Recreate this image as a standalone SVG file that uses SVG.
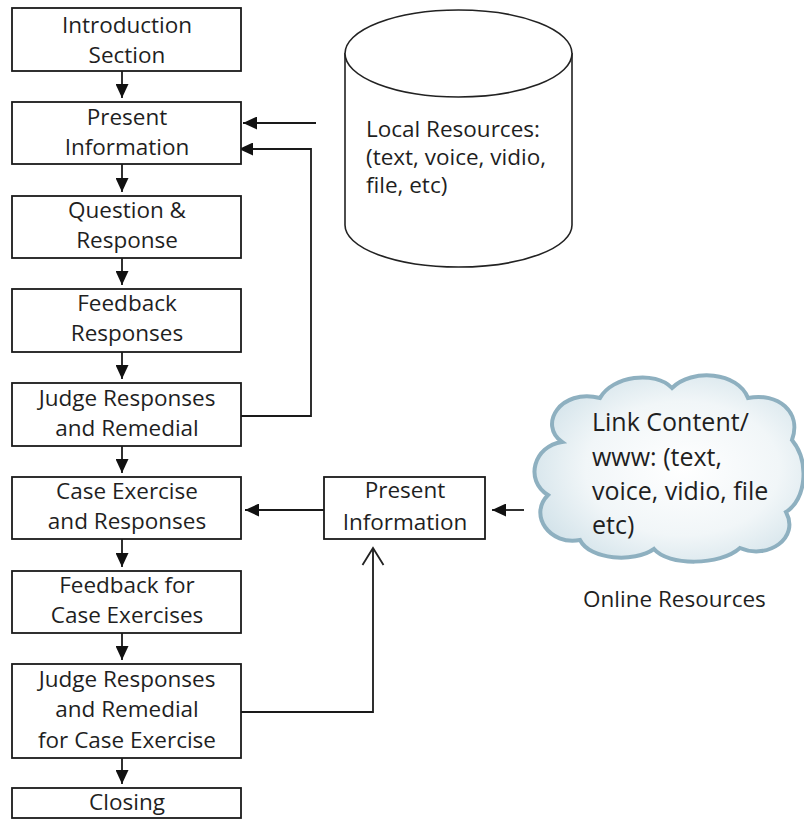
<svg xmlns="http://www.w3.org/2000/svg" width="804" height="820" viewBox="0 0 804 820">
<style>
.box{fill:#fff;stroke:#1a1a1a;stroke-width:1.8}
.t{font-family:"Open Sans","Noto Sans",sans-serif;font-size:22.5px;fill:#1f1f1f}
.c{text-anchor:middle}
.big{font-size:25px}
.ln{fill:none;stroke:#1a1a1a;stroke-width:1.8}
.cyl{fill:#fff;stroke:#222;stroke-width:1.6}
</style>
<defs>
<marker id="ah" markerUnits="userSpaceOnUse" markerWidth="14" markerHeight="13" viewBox="0 0 14 13" refX="14" refY="6.5" orient="auto">
<path d="M0,0 L14,6.5 L0,13 Z" fill="#111"/>
</marker>
<marker id="open" markerUnits="userSpaceOnUse" markerWidth="20" markerHeight="24" viewBox="0 0 20 24" refX="18" refY="12" orient="auto">
<path d="M1,1.5 L18,12 L1,22.5" fill="none" stroke="#222" stroke-width="1.8"/>
</marker>
<radialGradient id="cg" cx="0.55" cy="0.5" r="0.6">
<stop offset="0" stop-color="#ffffff"/>
<stop offset="0.6" stop-color="#f1f6f8"/>
<stop offset="1" stop-color="#d3e3ea"/>
</radialGradient>
</defs>

<g id="connectors">
<line class="ln" x1="122" y1="71" x2="122" y2="98" marker-end="url(#ah)"/>
<line class="ln" x1="122" y1="164" x2="122" y2="192" marker-end="url(#ah)"/>
<line class="ln" x1="122" y1="258" x2="122" y2="285" marker-end="url(#ah)"/>
<line class="ln" x1="122" y1="352" x2="122" y2="379" marker-end="url(#ah)"/>
<line class="ln" x1="122" y1="446" x2="122" y2="473" marker-end="url(#ah)"/>
<line class="ln" x1="122" y1="539" x2="122" y2="567" marker-end="url(#ah)"/>
<line class="ln" x1="122" y1="633" x2="122" y2="660" marker-end="url(#ah)"/>
<line class="ln" x1="122" y1="758" x2="122" y2="784" marker-end="url(#ah)"/>
<line class="ln" x1="316" y1="123" x2="243" y2="123" marker-end="url(#ah)"/>
<polyline class="ln" points="241,416 311,416 311,149 239,149" marker-end="url(#ah)"/>
<line class="ln" x1="324" y1="510" x2="245" y2="510" marker-end="url(#ah)"/>
<line class="ln" x1="524" y1="510" x2="492" y2="510" marker-end="url(#ah)"/>
<polyline class="ln" points="241,712 373,712 373,548" marker-end="url(#open)"/>
</g>

<g id="n1"><rect class="box" x="12" y="8" width="229" height="63"/>
<text class="t c" x="127" y="33">Introduction</text><text class="t c" x="127" y="63">Section</text></g>
<g id="n2"><rect class="box" x="12" y="102" width="229" height="62"/>
<text class="t c" x="127" y="125">Present</text><text class="t c" x="127" y="155">Information</text></g>
<g id="n3"><rect class="box" x="12" y="196" width="229" height="62"/>
<text class="t c" x="127" y="218">Question &amp;</text><text class="t c" x="127" y="248">Response</text></g>
<g id="n4"><rect class="box" x="12" y="289" width="229" height="63"/>
<text class="t c" x="127" y="311">Feedback</text><text class="t c" x="127" y="341">Responses</text></g>
<g id="n5"><rect class="box" x="12" y="383" width="229" height="63"/>
<text class="t c" x="127" y="406">Judge Responses</text><text class="t c" x="127" y="436">and Remedial</text></g>
<g id="n6"><rect class="box" x="12" y="477" width="229" height="62"/>
<text class="t c" x="127" y="499">Case Exercise</text><text class="t c" x="127" y="529">and Responses</text></g>
<g id="n7"><rect class="box" x="12" y="571" width="229" height="62"/>
<text class="t c" x="127" y="593">Feedback for</text><text class="t c" x="127" y="623">Case Exercises</text></g>
<g id="n8"><rect class="box" x="12" y="664" width="229" height="94"/>
<text class="t c" x="127" y="687">Judge Responses</text><text class="t c" x="127" y="717">and Remedial</text><text class="t c" x="127" y="748">for Case Exercise</text></g>
<g id="n9"><rect class="box" x="12" y="788" width="229" height="30"/>
<text class="t c" x="127" y="810">Closing</text></g>

<g id="n10"><rect class="box" x="324" y="477" width="161" height="62"/>
<text class="t c" x="405" y="498">Present</text><text class="t c" x="405" y="530">Information</text></g>

<g id="local">
<path class="cyl" d="M345,53 L345,225 A113.5,42 0 0 0 572,225 L572,53"/>
<ellipse class="cyl" cx="458.5" cy="53.5" rx="113.5" ry="43.5"/>
<text class="t" x="366" y="137">Local Resources:</text>
<text class="t" x="366" y="165">(text, voice, vidio,</text>
<text class="t" x="366" y="193">file, etc)</text>
</g>

<g id="online">
<path d="M562,442 C538,425 560,388 600,398 C612,376 655,370 672,388 C692,368 738,372 748,398 C778,392 802,412 792,440 C810,462 806,500 786,512 C800,538 768,560 740,548 C720,566 668,566 654,549 C634,563 590,560 580,540 C550,546 528,515 548,495 C524,480 534,446 562,442 Z" fill="url(#cg)" stroke="#8eb0c0" stroke-width="4"/>
<text class="t big" x="592" y="431">Link Content/</text>
<text class="t big" x="592" y="466">www: (text,</text>
<text class="t big" x="592" y="500">voice, vidio, file</text>
<text class="t big" x="592" y="534">etc)</text>
<text class="t" x="583" y="607">Online Resources</text>
</g>
</svg>
